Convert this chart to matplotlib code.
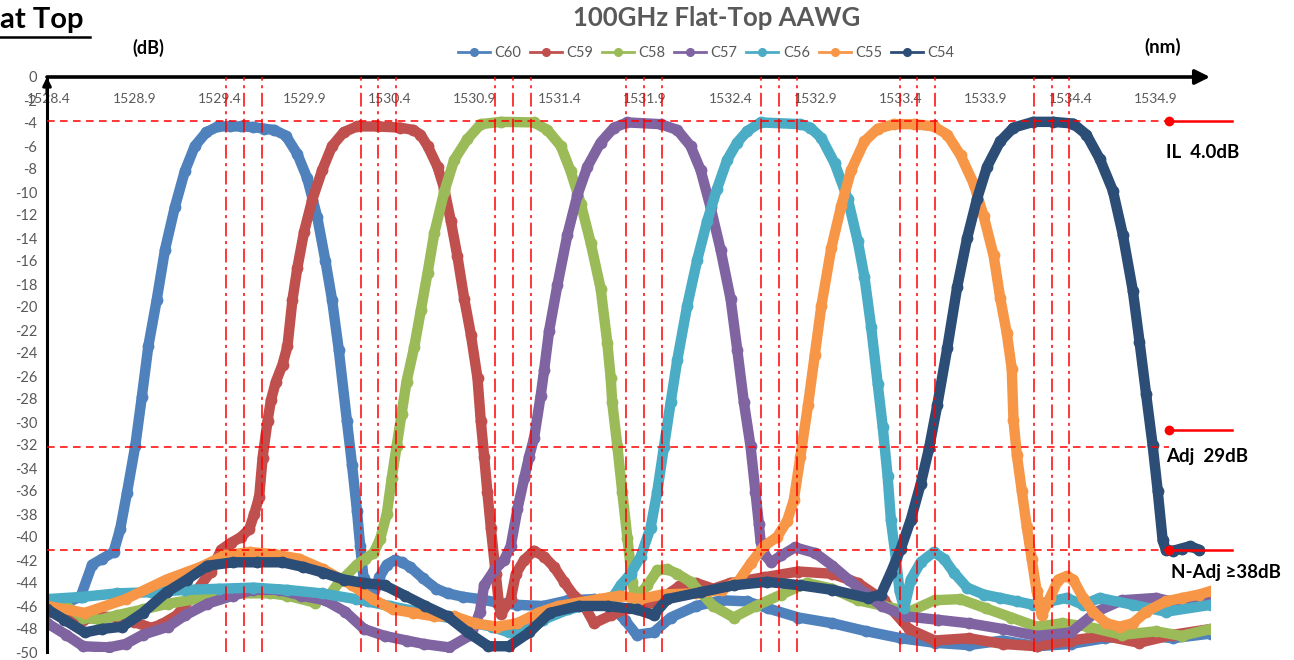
import numpy as np
import matplotlib
matplotlib.use("Agg")
from matplotlib import pyplot as plt
from matplotlib.lines import Line2D

plt.rcParams['font.family'] = ['Lato', 'DejaVu Sans']

# channel spectra: (wavelength nm, loss dB)
c60 = np.array([
    (1528.39, -46.0), (1528.45, -45.8), (1528.52, -45.6), (1528.585, -45.2), (1528.653, -42.4),
    (1528.711, -41.9), (1528.779, -41.3), (1528.818, -39.3), (1528.857, -36.2), (1528.906, -32.1),
    (1528.945, -27.8), (1528.983, -23.4), (1529.032, -19.4), (1529.081, -15.0), (1529.139, -11.3),
    (1529.197, -8.2), (1529.256, -6.0), (1529.324, -4.8), (1529.392, -4.3), (1529.46, -4.3),
    (1529.528, -4.3), (1529.60, -4.35), (1529.664, -4.5), (1529.722, -4.6), (1529.790, -5.1),
    (1529.858, -6.7), (1529.916, -8.8), (1529.975, -12.2), (1530.023, -16.0), (1530.062, -19.4),
    (1530.101, -23.7), (1530.149, -29.9), (1530.179, -33.7), (1530.208, -37.7), (1530.227, -40.8),
    (1530.247, -43.6), (1530.27, -45.6), (1530.30, -45.3), (1530.34, -43.5), (1530.383, -42.4),
    (1530.43, -42.0), (1530.47, -42.2), (1530.52, -42.6), (1530.596, -43.6), (1530.674, -44.5),
    (1530.74, -44.9), (1530.83, -45.2), (1530.93, -45.4), (1531.03, -45.7), (1531.15, -45.9),
    (1531.3, -46.0), (1531.45, -45.5), (1531.6, -45.4), (1531.7, -46.0), (1531.78, -47.2),
    (1531.85, -48.5), (1531.95, -48.3), (1532.05, -47.0), (1532.2, -46.0), (1532.35, -45.5),
    (1532.5, -45.6), (1532.62, -46.2), (1532.8, -47.0), (1533.0, -47.5), (1533.2, -48.2),
    (1533.4, -48.8), (1533.6, -49.2), (1533.8, -49.4), (1534.0, -49.0), (1534.2, -49.5),
    (1534.4, -49.3), (1534.6, -48.8), (1534.8, -48.5), (1535.0, -48.8), (1535.22, -48.4),
])
c59 = np.array([
    (1528.39, -46.5), (1528.5, -46.8), (1528.6, -47.2), (1528.7, -46.9), (1528.8, -47.0),
    (1528.9, -47.4), (1529.0, -47.9), (1529.06, -47.6), (1529.15, -46.8), (1529.25, -45.0),
    (1529.35, -43.0), (1529.411, -41.1), (1529.469, -40.5), (1529.528, -40.0), (1529.576, -39.3),
    (1529.605, -38.0), (1529.634, -36.5), (1529.654, -33.1), (1529.683, -29.9), (1529.703, -28.1),
    (1529.732, -26.5), (1529.771, -25.0), (1529.800, -23.4), (1529.829, -19.4), (1529.858, -16.6),
    (1529.897, -13.5), (1529.945, -10.7), (1530.004, -8.1), (1530.062, -6.0), (1530.130, -4.8),
    (1530.208, -4.3), (1530.33, -4.3), (1530.460, -4.4), (1530.538, -4.6), (1530.58, -5.0),
    (1530.623, -6.0), (1530.681, -7.8), (1530.72, -9.7), (1530.759, -12.5), (1530.798, -15.6),
    (1530.838, -19.3), (1530.877, -22.4), (1530.916, -26.2), (1530.935, -29.9), (1530.955, -33.0),
    (1530.974, -36.1), (1530.994, -39.2), (1531.023, -43.2), (1531.043, -46.0), (1531.053, -46.7),
    (1531.111, -45.4), (1531.141, -43.2), (1531.19, -42.0), (1531.248, -41.2), (1531.307, -41.7),
    (1531.365, -42.6), (1531.424, -43.9), (1531.483, -45.1), (1531.532, -45.7), (1531.6, -47.5),
    (1531.7, -46.8), (1531.8, -46.2), (1531.9, -46.0), (1532.0, -45.3), (1532.1, -44.3),
    (1532.2, -44.0), (1532.3, -44.5), (1532.4, -44.0), (1532.6, -43.5), (1532.8, -43.0),
    (1533.0, -43.2), (1533.15, -44.0), (1533.3, -45.5), (1533.45, -48.0), (1533.6, -49.0),
    (1533.8, -48.8), (1534.0, -49.3), (1534.2, -49.5), (1534.4, -49.0), (1534.6, -48.6),
    (1534.8, -49.2), (1535.0, -48.5), (1535.22, -48.0),
])
c58 = np.array([
    (1528.39, -45.4), (1528.5, -46.0), (1528.6, -47.0), (1528.7, -47.2), (1528.8, -46.8),
    (1528.95, -46.3), (1529.1, -45.8), (1529.3, -45.3), (1529.5, -44.9), (1529.7, -44.9),
    (1529.8, -45.1), (1529.96, -45.7), (1530.05, -45.0), (1530.11, -43.8), (1530.149, -43.3),
    (1530.208, -42.4), (1530.256, -41.9), (1530.305, -41.4), (1530.344, -40.2), (1530.383, -38.0),
    (1530.412, -34.9), (1530.441, -32.1), (1530.47, -29.3), (1530.499, -26.5), (1530.544, -23.5),
    (1530.583, -20.3), (1530.623, -17.0), (1530.662, -13.6), (1530.72, -10.0), (1530.779, -7.2),
    (1530.857, -5.4), (1530.935, -4.1), (1531.053, -3.9), (1531.248, -3.95), (1531.326, -4.6),
    (1531.405, -6.0), (1531.463, -8.2), (1531.522, -11.0), (1531.58, -14.4), (1531.639, -18.4),
    (1531.678, -23.1), (1531.698, -26.2), (1531.707, -28.3), (1531.737, -32.1), (1531.766, -36.1),
    (1531.796, -40.1), (1531.825, -43.9), (1531.844, -45.4), (1531.913, -44.2), (1531.972, -42.9),
    (1532.03, -42.8), (1532.089, -43.2), (1532.167, -43.9), (1532.226, -44.8), (1532.3, -46.0),
    (1532.42, -47.0), (1532.55, -46.0), (1532.7, -45.0), (1532.85, -44.0), (1533.0, -44.5),
    (1533.15, -45.5), (1533.3, -46.0), (1533.45, -46.5), (1533.6, -45.5), (1533.75, -45.4),
    (1533.9, -46.2), (1534.05, -47.0), (1534.2, -47.8), (1534.35, -47.5), (1534.5, -47.8),
    (1534.7, -48.5), (1534.9, -48.2), (1535.05, -48.6), (1535.22, -48.0),
])
c57 = np.array([
    (1528.39, -47.5), (1528.5, -48.5), (1528.6, -49.5), (1528.75, -49.6), (1528.85, -49.3),
    (1528.95, -48.5), (1529.1, -47.8), (1529.2, -46.8), (1529.33, -45.8), (1529.48, -45.1),
    (1529.6, -44.6), (1529.75, -44.6), (1529.88, -45.1), (1530.02, -45.5), (1530.14, -46.5),
    (1530.25, -48.0), (1530.37, -48.6), (1530.5, -49.0), (1530.6, -49.3), (1530.75, -49.6),
    (1530.88, -48.5), (1530.93, -46.5), (1530.955, -44.2), (1531.014, -42.9), (1531.072, -42.0),
    (1531.111, -40.8), (1531.15, -37.6), (1531.19, -34.9), (1531.219, -33.0), (1531.248, -31.4),
    (1531.287, -27.7), (1531.307, -25.5), (1531.336, -22.1), (1531.385, -18.1), (1531.444, -13.7),
    (1531.502, -10.3), (1531.561, -7.8), (1531.639, -5.7), (1531.717, -4.4), (1531.796, -3.95),
    (1531.991, -4.1), (1532.089, -4.6), (1532.167, -6.0), (1532.226, -8.1), (1532.284, -11.3),
    (1532.343, -15.0), (1532.402, -19.3), (1532.441, -23.7), (1532.48, -28.3), (1532.519, -32.1),
    (1532.548, -36.1), (1532.568, -38.9), (1532.578, -40.4), (1532.6, -41.5), (1532.64, -42.2),
    (1532.7, -41.6), (1532.78, -40.9), (1532.9, -41.4), (1533.0, -42.5), (1533.095, -43.7),
    (1533.19, -44.9), (1533.29, -46.0), (1533.43, -46.9), (1533.62, -47.2), (1533.8, -47.5),
    (1534.0, -48.0), (1534.2, -48.6), (1534.4, -48.3), (1534.55, -46.5), (1534.7, -45.5),
    (1534.9, -45.3), (1535.05, -45.8), (1535.22, -45.3),
])
c56 = np.array([
    (1528.39, -45.4), (1528.6, -45.2), (1528.8, -44.9), (1529.0, -44.8), (1529.2, -44.6),
    (1529.4, -44.5), (1529.6, -44.4), (1529.8, -44.6), (1530.0, -44.9), (1530.2, -45.4),
    (1530.4, -46.0), (1530.6, -46.6), (1530.8, -47.2), (1531.0, -47.8), (1531.1, -48.3),
    (1531.2, -48.0), (1531.3, -47.2), (1531.45, -46.3), (1531.6, -45.8), (1531.717, -45.1),
    (1531.756, -44.2), (1531.815, -43.2), (1531.874, -41.7), (1531.932, -39.2), (1531.971, -36.1),
    (1532.01, -32.2), (1532.05, -28.3), (1532.089, -24.6), (1532.147, -19.9), (1532.206, -15.9),
    (1532.265, -12.5), (1532.323, -9.7), (1532.382, -7.2), (1532.441, -5.7), (1532.5, -4.7),
    (1532.578, -3.95), (1532.812, -4.1), (1532.87, -4.4), (1532.935, -5.3), (1533.013, -7.5),
    (1533.09, -10.6), (1533.149, -14.3), (1533.188, -17.4), (1533.227, -21.7), (1533.266, -26.7),
    (1533.295, -30.4), (1533.324, -34.7), (1533.343, -38.5), (1533.373, -41.9), (1533.394, -44.7),
    (1533.421, -46.2), (1533.46, -43.7), (1533.518, -42.2), (1533.596, -41.3), (1533.655, -41.9),
    (1533.713, -43.1), (1533.791, -44.4), (1533.888, -45.0), (1533.985, -45.3), (1534.083, -45.6),
    (1534.18, -45.9), (1534.277, -45.6), (1534.375, -45.3), (1534.472, -45.9), (1534.569, -45.3),
    (1534.764, -45.9), (1534.958, -46.5), (1535.22, -45.9),
])
c55 = np.array([
    (1528.39, -46.0), (1528.61, -46.6), (1528.85, -45.4), (1529.09, -43.7), (1529.29, -42.6),
    (1529.43, -41.6), (1529.58, -41.3), (1529.72, -41.5), (1529.87, -41.9), (1530.01, -42.8),
    (1530.18, -44.2), (1530.30, -45.4), (1530.42, -46.3), (1530.54, -46.6), (1530.66, -46.9),
    (1530.78, -46.9), (1530.90, -47.5), (1531.03, -47.8), (1531.15, -47.5), (1531.27, -46.6),
    (1531.39, -46.0), (1531.51, -45.7), (1531.63, -45.4), (1531.75, -45.1), (1531.87, -45.4),
    (1532.0, -45.0), (1532.2, -44.9), (1532.35, -44.6), (1532.45, -43.8), (1532.52, -42.3),
    (1532.597, -40.8), (1532.675, -40.0), (1532.734, -38.6), (1532.773, -36.8), (1532.812, -33.0),
    (1532.857, -28.5), (1532.896, -24.2), (1532.935, -19.9), (1532.993, -14.9), (1533.052, -11.2),
    (1533.110, -8.1), (1533.188, -5.6), (1533.266, -4.5), (1533.363, -4.1), (1533.48, -4.1),
    (1533.596, -4.3), (1533.674, -5.0), (1533.752, -6.8), (1533.83, -9.3), (1533.888, -12.1),
    (1533.946, -15.5), (1533.985, -19.2), (1534.024, -22.3), (1534.053, -25.4), (1534.063, -29.8),
    (1534.083, -32.9), (1534.112, -36.0), (1534.141, -39.1), (1534.17, -41.9), (1534.199, -44.7),
    (1534.229, -46.8), (1534.277, -45.3), (1534.326, -43.7), (1534.375, -43.4), (1534.414, -43.7),
    (1534.472, -45.3), (1534.53, -46.5), (1534.608, -47.5), (1534.686, -47.8), (1534.764, -47.5),
    (1534.842, -46.5), (1534.958, -45.6), (1535.055, -45.3), (1535.153, -45.0), (1535.22, -44.7),
])
c54 = np.array([
    (1528.39, -46.3), (1528.49, -47.2), (1528.61, -48.3), (1528.71, -48.0), (1528.83, -47.8),
    (1528.95, -46.6), (1529.09, -44.8), (1529.21, -43.7), (1529.33, -42.5), (1529.48, -42.2),
    (1529.62, -42.2), (1529.77, -42.2), (1529.89, -42.6), (1530.01, -43.1), (1530.13, -43.7),
    (1530.25, -44.0), (1530.37, -44.2), (1530.49, -45.1), (1530.61, -46.0), (1530.74, -46.9),
    (1530.86, -48.3), (1530.98, -49.5), (1531.10, -49.5), (1531.22, -48.3), (1531.34, -46.6),
    (1531.51, -46.0), (1531.68, -46.0), (1531.85, -46.3), (1531.95, -46.8), (1532.03, -45.4),
    (1532.226, -44.8), (1532.42, -44.2), (1532.617, -43.9), (1532.812, -44.2), (1533.0, -44.6),
    (1533.207, -45.3), (1533.285, -45.0), (1533.343, -43.1), (1533.402, -41.0), (1533.46, -38.5),
    (1533.518, -35.4), (1533.567, -32.3), (1533.616, -28.5), (1533.674, -23.6), (1533.732, -18.3),
    (1533.791, -14.0), (1533.849, -10.6), (1533.908, -7.8), (1533.985, -5.6), (1534.063, -4.4),
    (1534.18, -3.9), (1534.297, -3.9), (1534.413, -4.05), (1534.491, -5.0), (1534.569, -7.1),
    (1534.647, -9.9), (1534.705, -13.7), (1534.764, -18.6), (1534.803, -23.0), (1534.842, -27.6),
    (1534.88, -32.0), (1534.91, -36.0), (1534.939, -40.3), (1534.958, -41.1), (1535.0, -41.2),
    (1535.05, -41.0), (1535.1, -40.8), (1535.15, -41.1),
])

channels = ['C60', 'C59', 'C58', 'C57', 'C56', 'C55', 'C54']
spectra = [c60, c59, c58, c57, c56, c55, c54]
colors = ['#4F81BD', '#C0504D', '#9BBB59', '#8064A2', '#4BACC6', '#F79646', '#2C4D75']

centers_nm = [1529.547, 1530.334, 1531.125, 1531.892, 1532.685, 1533.499, 1534.287]
il_db, adj_db, nadj_db = -3.8, -32.2, -41.1
adj_mark_db = -30.7
xtick_vals = [1528.4 + 0.5 * i for i in range(14)]

gray = '#595959'
W, H = 1294, 660
fig = plt.figure(figsize=(W / 100, H / 100), dpi=100)
ax = fig.add_axes([47 / W, 8 / H, 1163 / W, 575 / H])
x0, x1 = 1528.388, 1535.217
ax.set_xlim(x0, x1)
ax.set_ylim(-50, 0)

for name, data, col in zip(channels, spectra, colors):
    ax.plot(data[:, 0], data[:, 1], color=col, lw=7.5, marker='o', ms=8.5, mew=0,
            solid_capstyle='round', solid_joinstyle='round', zorder=2)

# reference lines
red = '#FF0000'
for c in centers_nm:
    for off in (-0.105, 0.0, 0.105):
        ax.axvline(c + off, color=red, lw=1.1, ls=(0, (9, 3, 2, 3)), zorder=4)
x_end = 1534.977
for yv in (il_db, adj_db, nadj_db):
    ax.plot([x0, x_end], [yv, yv], color=red, lw=1.1, ls=(0, (5, 3.5)), zorder=4)

x_tail = 1535.346
for yv in (il_db, adj_mark_db, nadj_db):
    ax.plot([x_end, x_tail], [yv, yv], color=red, lw=1.8, clip_on=False, zorder=5)
    ax.plot([x_end], [yv], 'o', color=red, ms=6, clip_on=False, zorder=5)

note_kw = dict(fontsize=13.5, fontweight='bold', ha='left', va='center')
ax.text(1534.96, -6.6, 'IL  4.0dB', **note_kw)
ax.text(1534.96, -33.0, 'Adj  29dB', **note_kw)
ax.text(1534.99, -43.1, 'N-Adj \u226538dB', **note_kw)

# axes styling
for s in ('top', 'right', 'bottom'):
    ax.spines[s].set_visible(False)
ax.spines['left'].set_color('black')
ax.spines['left'].set_linewidth(2.2)
ax.annotate('', xy=(1.0, 1.0), xytext=(0.0, 1.0), xycoords='axes fraction',
            arrowprops=dict(arrowstyle='-|>', lw=2.6, color='black', mutation_scale=22,
                            shrinkA=0, shrinkB=0))
ax.annotate('', xy=(0.0, 1.0), xytext=(0.0, 0.97), xycoords='axes fraction',
            arrowprops=dict(arrowstyle='-|>', lw=2.2, color='black', mutation_scale=12,
                            shrinkA=0, shrinkB=0))

ax.set_yticks(range(0, -51, -2))
ax.set_yticklabels([str(v) for v in range(0, -51, -2)])
ax.set_xticks(xtick_vals)
ax.set_xticklabels([f'{v:.1f}' for v in xtick_vals])
ax.tick_params(axis='y', length=0, pad=7, labelsize=10.5, labelcolor=gray)
ax.tick_params(axis='x', length=0, top=True, labeltop=True, bottom=False, labelbottom=False,
               pad=-20, labelsize=10, labelcolor=gray)

# titles and labels
fig.text(717 / W, 1 - 18 / H, '100GHz Flat-Top AAWG', ha='center', va='center',
         fontsize=18.5, fontweight='bold', color=gray)
fig.text(0, 1 - 20 / H, 'at Top', ha='left', va='center', fontsize=21, fontweight='bold')
fig.add_artist(Line2D([0, 90 / W], [1 - 37 / H, 1 - 37 / H], color='black', lw=1.8))
fig.text(148 / W, 1 - 48 / H, '(dB)', ha='center', va='center', fontsize=13, fontweight='bold')
fig.text(1163 / W, 1 - 47 / H, '(nm)', ha='center', va='center', fontsize=13.5, fontweight='bold')

handles = [Line2D([], [], color=c, lw=2, marker='o', ms=5.5) for c in colors]
fig.legend(handles, channels, loc='center', bbox_to_anchor=(706 / W, 1 - 53 / H), ncol=7,
           frameon=False, fontsize=10.5, labelcolor=gray, handlelength=2.2,
           handletextpad=0.3, columnspacing=0.6)

fig.savefig('out.png', dpi=100)
